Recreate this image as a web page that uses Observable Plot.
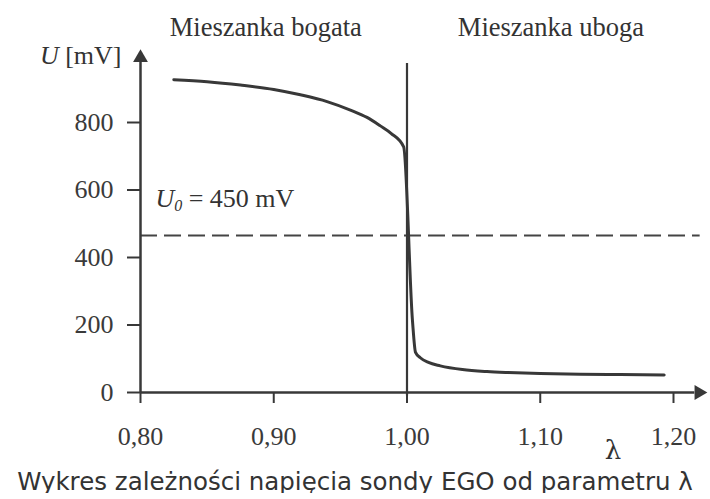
<!DOCTYPE html>
<html>
<head>
<meta charset="utf-8">
<script src="https://cdn.jsdelivr.net/npm/d3@7"></script>
<script src="https://cdn.jsdelivr.net/npm/@observablehq/plot@0.6"></script>
<style>
  html, body { margin: 0; padding: 0; background: #fff; }
  #chart svg { display: block; }
  #caption {
    position: relative;
    margin-top: -4.5px;
    width: 710px;
    text-align: center;
    font-family: "DejaVu Sans", sans-serif;
    font-size: 24.5px;
    line-height: 22px;
    color: #333;
    white-space: nowrap;
  }
</style>
</head>
<body>
<div id="chart"></div>
<div id="caption">Wykres zależności napięcia sondy EGO od parametru λ</div>
<script>
// ---- data ----
const lambdaVals  = [0.825, 0.85, 0.875, 0.90, 0.92, 0.94, 0.958, 0.97, 0.98, 0.988, 0.9975, 1.0041, 1.0064, 1.01, 1.0161, 1.025, 1.0416, 1.06, 1.076, 1.10, 1.13, 1.16, 1.193];
const voltageVals = [927,   921,  911,   898,  882,  862,  836,   815,  790,  768,   728,    213,    119,    103,  89,     79,    68,     62,   59,    56,   54,   53,   52];
const xTicks = [0.80, 0.90, 1.00, 1.10, 1.20];
const yTicks = [0, 200, 400, 600, 800];
const refVoltage = 465;           // dashed reference line (labelled 450 mV)
const refLabel = "U0 = 450 mV";
const stoichLambda = 1.00;        // vertical line λ = 1
const regionLabels = ["Mieszanka bogata", "Mieszanka uboga"];
const regionLambda = [0.894, 1.108];
const yAxisLabel = "U [mV]";
const xAxisLabel = "λ";

const curve = lambdaVals.map((l, i) => ({lambda: l, u: voltageVals[i]}));
const ink = "#383838";
const serif = "'Liberation Serif', 'Times New Roman', serif";
const fmtX = d => d.toFixed(2).replace(".", ",");

const plot = Plot.plot({
  width: 710,
  height: 475,
  marginLeft: 140,
  marginRight: 37,
  marginTop: 54.5,
  marginBottom: 83,
  style: {fontFamily: serif, fontSize: "26px", color: "#3a3a3a", background: "#fff", overflow: "visible"},
  x: {domain: [0.8, 1.2]},
  y: {domain: [0, 1000]},
  marks: [
    // reference dashed line
    Plot.ruleY([refVoltage], {x1: 0.8, x2: 1.22, stroke: "#444", strokeWidth: 2, strokeDasharray: "17,7", clip: false}),
    // stoichiometric vertical line
    Plot.ruleX([stoichLambda], {y1: -10, y2: 975, stroke: ink, strokeWidth: 2.2}),
    // axes lines with arrow heads
    Plot.ruleY([0], {x1: 0.8, x2: 1.216, stroke: ink, strokeWidth: 2.5, clip: false}),
    Plot.dot([0], {x: [1.219], y: [0], symbol: "triangle", r: 5.5, fill: ink, stroke: null, rotate: 90}),
    Plot.ruleX([0.8], {y1: 0, y2: 985, stroke: ink, strokeWidth: 2.5}),
    Plot.dot([0], {x: [0.8], y: [992], symbol: "triangle", r: 5.5, fill: ink, stroke: null}),
    Plot.axisX({ticks: xTicks, tickSize: 11, tickPadding: 23, tickFormat: fmtX, label: null, stroke: ink, strokeWidth: 2}),
    Plot.axisY({ticks: yTicks, tickSize: 13, tickPadding: 14, tickFormat: d => String(d), label: null, stroke: ink, strokeWidth: 2}),
    // curve
    Plot.line(curve, {x: "lambda", y: "u", curve: "monotone-x", stroke: ink, strokeWidth: 3}),
    // texts
    Plot.text(regionLabels, {x: regionLambda, y: [1055, 1055], text: d => d, lineAnchor: "bottom", fontSize: 26.5, fill: "#333"}),
    Plot.text([yAxisLabel], {x: [0.8], y: [972], text: d => d, textAnchor: "end", dx: -19, lineAnchor: "bottom", fill: "#333"}),
    Plot.text([refLabel], {x: [0.8112], y: [551], text: d => d, textAnchor: "start", lineAnchor: "bottom", fill: "#333"}),
    Plot.text([xAxisLabel], {x: [1.1545], y: [-198.5], text: d => d, lineAnchor: "bottom", fontSize: 26, fontFamily: "'DejaVu Serif', serif", fill: "#333"})
  ]
});

// italic symbols
const NS = "http://www.w3.org/2000/svg";
plot.querySelectorAll("text").forEach(t => {
  const s = t.textContent;
  if (s === yAxisLabel) {
    t.textContent = "";
    const a = document.createElementNS(NS, "tspan"); a.setAttribute("font-style", "italic"); a.textContent = "U";
    const b = document.createElementNS(NS, "tspan"); b.textContent = " [mV]";
    t.append(a, b);
  } else if (s === refLabel) {
    t.textContent = "";
    const a = document.createElementNS(NS, "tspan"); a.setAttribute("font-style", "italic"); a.textContent = "U";
    const b = document.createElementNS(NS, "tspan"); b.setAttribute("font-style", "italic"); b.setAttribute("font-size", "16"); b.setAttribute("dy", "4"); b.textContent = "0";
    const c = document.createElementNS(NS, "tspan"); c.setAttribute("dy", "-4"); c.textContent = " = 450 mV";
    t.append(a, b, c);
  }
});

document.getElementById("chart").appendChild(plot);
</script>
</body>
</html>
